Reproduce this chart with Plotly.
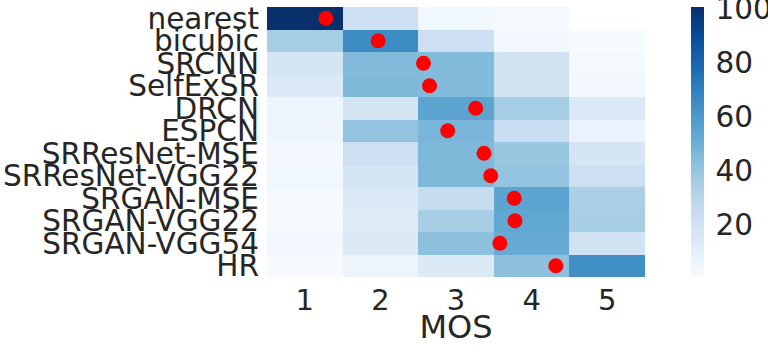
import plotly.graph_objects as go

methods = ["nearest", "bicubic", "SRCNN", "SelfExSR", "DRCN", "ESPCN",
           "SRResNet-MSE", "SRResNet-VGG22", "SRGAN-MSE", "SRGAN-VGG22",
           "SRGAN-VGG54", "HR"]
mos_levels = [1, 2, 3, 4, 5]

# rating distribution per method (percent of ratings per MOS level)
dist = [
    [100.7, 22, 4, 2, None],
    [36, 65, 22, 3, 1],
    [18, 45, 45, 20, 2],
    [15, 46, 45, 20, 3],
    [6, 18, 55, 36, 15],
    [5, 41, 47, 24, 7],
    [3, 22, 46, 40, 18],
    [4, 18, 46, 41, 22],
    [2, 15, 25, 55, 34],
    [2, 13, 35, 54, 35],
    [3, 14, 42, 52, 20],
    [0.7, 6, 14, 42, 64],
]
mean_mos = [1.28, 1.97, 2.57, 2.65, 3.26, 2.89, 3.37, 3.46, 3.77, 3.78, 3.58, 4.32]
cbar_ticks = [20, 40, 60, 80, 100]

font_color = "#262626"
fam = "DejaVu Sans"
fs = 29.5

fig = go.Figure()
fig.add_trace(go.Heatmap(
    z=dist, x=mos_levels, y=methods,
    colorscale="Blues", zmin=0.7, zmax=100.7,
    xgap=0, ygap=0,
    colorbar=dict(
        x=1.122, xanchor="left", y=1.0, yanchor="top",
        len=1.0, lenmode="fraction", thickness=13,
        outlinewidth=0, ticks="outside", ticklen=6, tickcolor="rgba(0,0,0,0)",
        tickvals=cbar_ticks,
        ticklabeloverflow="allow",
        tickfont=dict(family=fam, size=fs, color=font_color),
        xpad=0, ypad=0,
    ),
))
fig.add_trace(go.Scatter(
    x=mean_mos, y=methods, mode="markers",
    marker=dict(color="red", size=15, line=dict(width=0)),
    showlegend=False,
))

fig.update_layout(
    width=768, height=346,
    margin=dict(l=267, r=123, t=7, b=69, autoexpand=False),
    paper_bgcolor="white", plot_bgcolor="white",
    font=dict(family=fam, size=fs, color=font_color),
    showlegend=False,
)
fig.update_xaxes(
    range=[0.5, 5.5], tickmode="array", tickvals=mos_levels, ticks="", showgrid=False,
    zeroline=False, showline=False, automargin=False,
    tickfont=dict(family=fam, size=29, color=font_color),
    ticklabelstandoff=3,
    title=dict(text="MOS", font=dict(family=fam, size=32, color=font_color), standoff=8),
)
fig.update_yaxes(
    range=[11.5, -0.5], tickmode="array", tickvals=methods, ticktext=methods,
    ticks="", showgrid=False, zeroline=False, showline=False, automargin=False,
    tickfont=dict(family=fam, size=fs, color=font_color),
    ticklabelstandoff=7,
)

fig.write_html(
    "out.html",
    config={"displayModeBar": False},
    post_script=(
        "document.body.style.margin='0';"
        "document.body.style.overflow='hidden';"
        "document.documentElement.style.overflow='hidden';"
    ),
)
